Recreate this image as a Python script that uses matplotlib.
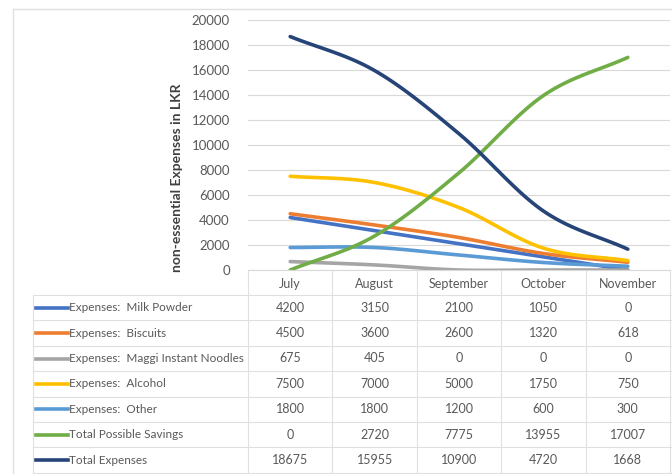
import numpy as np
import matplotlib
matplotlib.use("Agg")
import matplotlib.pyplot as plt

# calibri isn't there, Lato is the closest narrow-ish one
plt.rcParams['font.family'] = ['Lato', 'DejaVu Sans']

months = ["July", "August", "September", "October", "November"]
series_names = ["Expenses:  Milk Powder", "Expenses:  Biscuits",
                "Expenses:  Maggi Instant Noodles", "Expenses:  Alcohol",
                "Expenses:  Other", "Total Possible Savings", "Total Expenses"]
milk = [4200, 3150, 2100, 1050, 0]
biscuits = [4500, 3600, 2600, 1320, 618]
maggi = [675, 405, 0, 0, 0]
alcohol = [7500, 7000, 5000, 1750, 750]
other = [1800, 1800, 1200, 600, 300]
savings = [0, 2720, 7775, 13955, 17007]
total = [18675, 15955, 10900, 4720, 1668]
colors = ["#4472C4", "#ED7D31", "#A5A5A5", "#FFC000", "#5B9BD5", "#70AD47", "#264478"]

all_series = [milk, biscuits, maggi, alcohol, other, savings, total]


def smooth(x, y, n=30):
    # catmull-rom like excel "smoothed line"
    x = np.asarray(x, float)
    y = np.asarray(y, float)
    px = np.concatenate([[2 * x[0] - x[1]], x, [2 * x[-1] - x[-2]]])
    py = np.concatenate([[2 * y[0] - y[1]], y, [2 * y[-1] - y[-2]]])
    xs, ys = [], []
    for i in range(1, len(px) - 2):
        t = np.linspace(0, 1, n)
        for p, out in ((px, xs), (py, ys)):
            p0, p1, p2, p3 = p[i - 1], p[i], p[i + 1], p[i + 2]
            out.extend(0.5 * ((2 * p1) + (-p0 + p2) * t +
                              (2 * p0 - 5 * p1 + 4 * p2 - p3) * t ** 2 +
                              (-p0 + 3 * p1 - 3 * p2 + p3) * t ** 3))
    return np.array(xs), np.array(ys)


W, H = 672, 474
fig = plt.figure(figsize=(W / 100, H / 100), dpi=100)

# pixel layout
x0, x1 = 248, 670       # plot / month columns
ytop, ybot = 20, 270    # 20000 .. 0
tab_left = 33
row_h = 25.4
hdr_bot = 295
fs = 9
txtc = "#595959"

ax = fig.add_axes([x0 / W, (H - ybot) / H, (x1 - x0) / W, (ybot - ytop) / H])
ax.set_xlim(-0.5, 4.5)
ax.set_ylim(0, 20000)
ax.set_yticks(range(0, 20001, 2000))
ax.tick_params(axis='y', length=0, labelsize=9.5, labelcolor=txtc, pad=13)
ax.set_xticks([])
ax.grid(axis='y', color="#d9d9d9", lw=0.8)
ax.set_axisbelow(True)
for s in ["top", "right", "left"]:
    ax.spines[s].set_visible(False)
ax.spines["bottom"].set_color("#d9d9d9")
ax.patch.set_alpha(0)

xi = np.arange(len(months))
for vals, c in zip(all_series, colors):
    sx, sy = smooth(xi, vals)
    ax.plot(sx, sy, color=c, lw=2.6, solid_capstyle="round")

# table overlay in pixel coords
tb = fig.add_axes([0, 0, 1, 1], zorder=-1)
tb.set_xlim(0, W)
tb.set_ylim(H, 0)
tb.axis("off")

# axis title sits lower than the plot centre in the original
tb.text(177, 178, "non-essential Expenses in LKR", rotation=90, ha="center",
        va="center", fontsize=10, fontweight="bold", color="#404040")

gc = "#e0e0e0"
# outer frame
tb.plot([13, 13], [9, H], color=gc, lw=1)
tb.plot([13, W], [9, 9], color=gc, lw=1)

colw = (x1 - x0) / len(months)
nrows = len(series_names)
ybottom = hdr_bot + nrows * row_h
# vertical lines
tb.plot([tab_left, tab_left], [hdr_bot, ybottom], color=gc, lw=0.8)
for k in range(len(months) + 1):
    xx = x0 + k * colw
    tb.plot([xx, xx], [ybot, ybottom], color=gc, lw=0.8)
# horizontal lines
for r in range(nrows + 1):
    yy = hdr_bot + r * row_h
    tb.plot([tab_left, W], [yy, yy], color=gc, lw=0.8)

for k, m in enumerate(months):
    tb.text(x0 + (k + 0.5) * colw, (ybot + hdr_bot) / 2 + 1, m, ha="center",
            va="center", fontsize=fs, color=txtc)

for r, (name, vals, c) in enumerate(zip(series_names, all_series, colors)):
    yc = hdr_bot + (r + 0.5) * row_h
    tb.plot([36, 68], [yc, yc], color=c, lw=2.6)
    tb.text(69, yc, name, ha="left", va="center", fontsize=8.5, color=txtc)
    for k, v in enumerate(vals):
        tb.text(x0 + (k + 0.5) * colw, yc, str(v), ha="center", va="center",
                fontsize=fs, color=txtc)

fig.savefig("out.png", dpi=100)
